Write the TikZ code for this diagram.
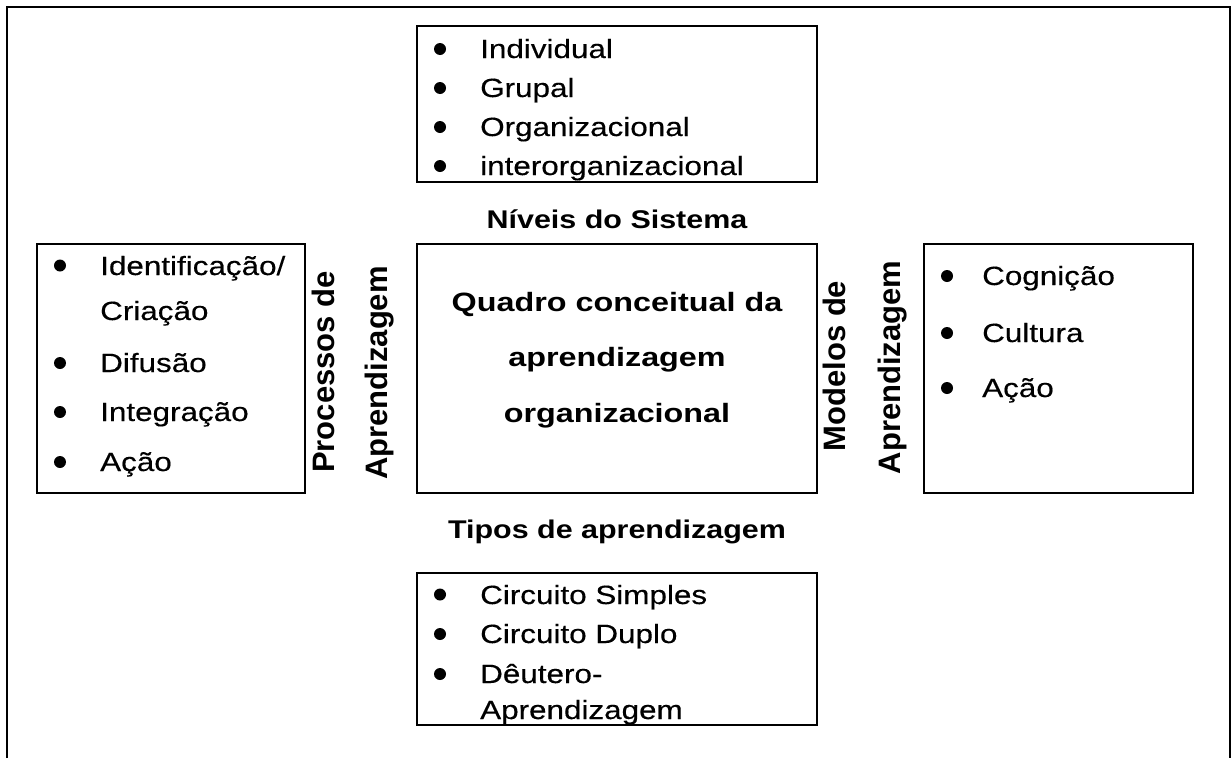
\documentclass[tikz,border=0pt]{standalone}
\usepackage{fontspec}
\usepackage{graphicx}
\setmainfont{Liberation Sans}
\newfontfamily\listfont{Liberation Sans}[FakeBold=0.3]

% horizontal text is set slightly wide
\newcommand\itemtxt[1]{\scalebox{1.19}[1]{#1}}
\newcommand\headtxt[1]{\scalebox{1.19}[1]{#1}}
\newcommand\coretxt[1]{\scalebox{1.22}[1]{#1}}

\tikzset{
  box/.style={draw, line width=2.4pt, inner sep=0pt},
  item/.style={anchor=base west, inner sep=0pt, font=\listfont\fontsize{26.4}{30}\selectfont},
  dot/.style={fill, circle, inner sep=0pt, minimum size=12pt},
  head/.style={anchor=base, inner sep=0pt, font=\fontsize{25.6}{30}\selectfont\bfseries},
  core/.style={anchor=base, inner sep=0pt, font=\fontsize{26.5}{30}\selectfont\bfseries},
  side/.style={rotate=90, anchor=base, inner sep=0pt, font=\fontsize{31}{36}\selectfont\bfseries},
}

\begin{document}
\begin{tikzpicture}[x=1pt, y=-1pt]
\useasboundingbox (0,0) rectangle (1232,758);

% open outer frame
\coordinate (fbl) at (7,758);
\coordinate (ftl) at (7,7);
\coordinate (ftr) at (1230,7);
\coordinate (fbr) at (1230,758);
\draw[line width=2.4pt] (fbl) -- (ftl) -- (ftr) -- (fbr);

% boxes
\node[box, minimum width=400pt, minimum height=156pt] (lvlbox) at (617,104) {};
\node[box, minimum width=400pt, minimum height=249pt] (corebox) at (617,368.5) {};
\node[box, minimum width=268pt, minimum height=249pt] (procbox) at (171,368.5) {};
\node[box, minimum width=269pt, minimum height=249pt] (modbox) at (1058.5,368.5) {};
\node[box, minimum width=400pt, minimum height=152pt] (typebox) at (617,649) {};

% system levels
\node[dot] (d1) at (440,49) {};
\node[dot] (d2) at (440,88) {};
\node[dot] (d3) at (440,127) {};
\node[dot] (d4) at (440,166) {};
\node[item] (l1) at (480,58) {\itemtxt{Individual}};
\node[item] (l2) at (480,97) {\itemtxt{Grupal}};
\node[item] (l3) at (480,136) {\itemtxt{Organizacional}};
\node[item] (l4) at (480,175) {\itemtxt{interorganizacional}};
\node[head] (lvlhead) at (617,228) {\headtxt{Níveis do Sistema}};

% central concept
\node[core] (c1) at (617,311) {\coretxt{Quadro conceitual da}};
\node[core] (c2) at (617,366) {\coretxt{aprendizagem}};
\node[core] (c3) at (617,422) {\coretxt{organizacional}};

% learning processes
\node[dot] (p1d) at (60,265.5) {};
\node[dot] (p3d) at (60,363) {};
\node[dot] (p4d) at (60,412) {};
\node[dot] (p5d) at (60,462) {};
\node[item] (p1) at (100,275) {\itemtxt{Identificação/}};
\node[item] (p2) at (100,320) {\itemtxt{Criação}};
\node[item] (p3) at (100,372) {\itemtxt{Difusão}};
\node[item] (p4) at (100,421) {\itemtxt{Integração}};
\node[item] (p5) at (100,471) {\itemtxt{Ação}};
\node[side] (ps1) at (334,372) {Processos de};
\node[side] (ps2) at (387,373) {Aprendizagem};

% learning models
\node[side] (ms1) at (845,366) {Modelos de};
\node[side] (ms2) at (900,367.5) {Aprendizagem};
\node[dot] (m1d) at (947,276) {};
\node[dot] (m2d) at (947,333) {};
\node[dot] (m3d) at (947,388) {};
\node[item] (m1) at (982,285) {\itemtxt{Cognição}};
\node[item] (m2) at (982,342) {\itemtxt{Cultura}};
\node[item] (m3) at (982,397) {\itemtxt{Ação}};

% learning types
\node[head] (typehead) at (617,538) {\headtxt{Tipos de aprendizagem}};
\node[dot] (t1d) at (440,594.5) {};
\node[dot] (t2d) at (440,634) {};
\node[dot] (t3d) at (440,674) {};
\node[item] (t1) at (480,604) {\itemtxt{Circuito Simples}};
\node[item] (t2) at (480,643) {\itemtxt{Circuito Duplo}};
\node[item] (t3) at (480,683) {\itemtxt{Dêutero-}};
\node[item] (t4) at (480,719) {\itemtxt{Aprendizagem}};
\end{tikzpicture}
\end{document}
